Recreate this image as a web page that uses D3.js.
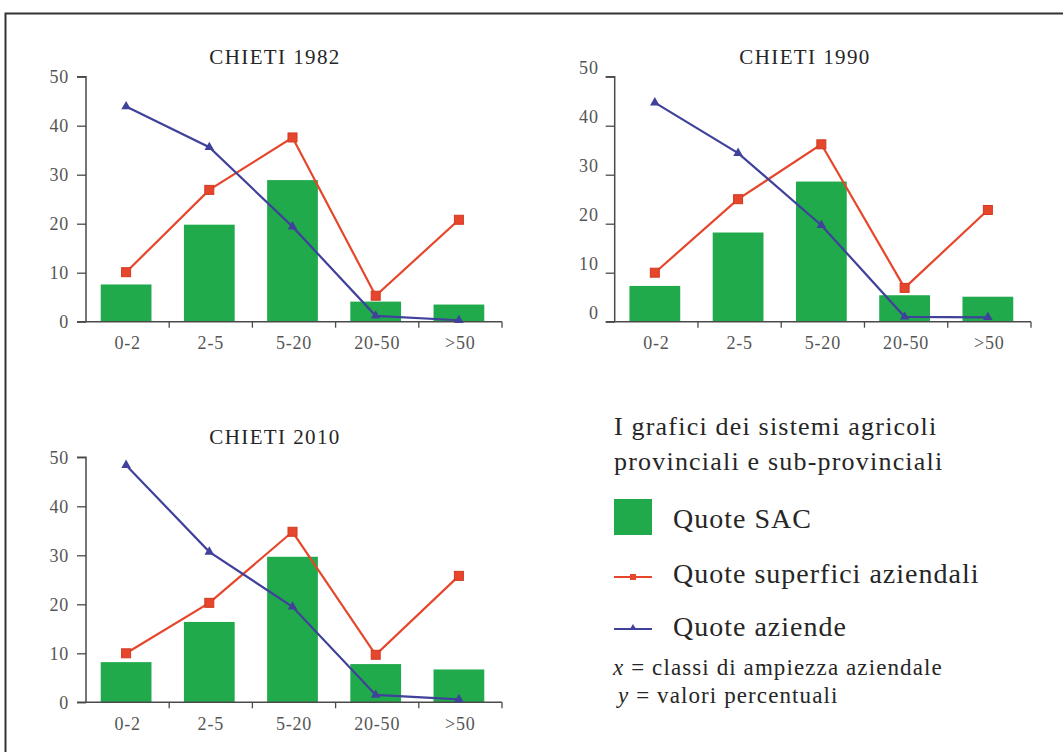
<!DOCTYPE html>
<html>
<head>
<meta charset="utf-8">
<script src="https://cdn.jsdelivr.net/npm/d3@7"></script>
<style>
  html, body { margin: 0; padding: 0; background: #fff; }
  svg { display: block; }
  svg text { font-family: "Liberation Serif", "DejaVu Serif", serif; }
</style>
</head>
<body>
<svg id="chart" width="1063" height="752"></svg>
<script>
// ---------- DATA ----------
const categories = ["0-2", "2-5", "5-20", "20-50", ">50"];
const panelTitles = ["CHIETI 1982", "CHIETI 1990", "CHIETI 2010"];
const yTicks = [0, 10, 20, 30, 40, 50];

// Quote SAC (bars)
const sac1982 = [7.6, 19.8, 28.9, 4.1, 3.5];
const sac1990 = [7.3, 18.2, 28.6, 5.4, 5.1];
const sac2010 = [8.2, 16.4, 29.7, 7.8, 6.7];

// Quote superfici aziendali (red line, squares)
const sup1982 = [10.1, 26.9, 37.6, 5.3, 20.8];
const sup1990 = [10.0, 25.0, 36.2, 6.9, 22.8];
const sup2010 = [10.0, 20.3, 34.8, 9.7, 25.8];

// Quote aziende (blue line, triangles)
const az1982 = [43.9, 35.6, 19.4, 1.2, 0.3];
const az1990 = [44.7, 34.4, 19.7, 1.0, 0.9];
const az2010 = [48.4, 30.7, 19.5, 1.5, 0.6];

const legendTitle = ["I grafici dei sistemi agricoli", "provinciali e sub-provinciali"];
const legendLabels = ["Quote SAC", "Quote superfici aziendali", "Quote aziende"];
const noteX = ["x", " = classi di ampiezza aziendale"];
const noteY = ["y", " = valori percentuali"];

// ---------- STYLE ----------
const GREEN = "#21aa4b", RED = "#e6462b", REDDARK = "#d13a22", BLUE = "#40419b";
const AXIS = "#4a4a4a", TICKTXT = "#555", TXT = "#262626";

const svg = d3.select("#chart");

// frame
svg.append("path")
  .attr("d", "M1063,13.5 L5.5,13.5 L5.5,752")
  .attr("fill", "none").attr("stroke", "#333").attr("stroke-width", 2);

const panels = [
  { title: panelTitles[0], sac: sac1982, sup: sup1982, az: az1982, x0: 86, x1: 502, yb: 321.7, yt: 76.7, tx: 275, ty: 64, lblShift: 0, lblGap: 17 },
  { title: panelTitles[1], sac: sac1990, sup: sup1990, az: az1990, x0: 614.7, x1: 1031, yb: 321.7, yt: 76.7, tx: 805, ty: 64, lblShift: -9, lblGap: 16 },
  { title: panelTitles[2], sac: sac2010, sup: sup2010, az: az2010, x0: 86, x1: 502, yb: 702.3, yt: 457.3, tx: 275, ty: 444, lblShift: 0, lblGap: 17 }
];

panels.forEach(p => {
  const g = svg.append("g");
  const x = d3.scaleBand().domain(categories).range([p.x0, p.x1]);
  const y = d3.scaleLinear().domain([0, 50]).range([p.yb, p.yt]);
  const bw = x.bandwidth() * 0.61;
  const cx = c => x(c) + x.bandwidth() / 2 - 1.5;

  // title
  g.append("text")
    .attr("x", p.tx).attr("y", p.ty)
    .attr("text-anchor", "middle")
    .attr("font-size", 21)
    .attr("letter-spacing", 1.4)
    .attr("fill", TXT)
    .text(p.title);

  // bars
  g.selectAll("rect.bar").data(categories).enter().append("rect")
    .attr("class", "bar")
    .attr("x", c => cx(c) - bw / 2)
    .attr("width", bw)
    .attr("y", (c, i) => y(p.sac[i]))
    .attr("height", (c, i) => y(0) - y(p.sac[i]))
    .attr("fill", GREEN);

  // y axis
  const yAxis = d3.axisLeft(y).tickValues(yTicks).tickSize(9).tickPadding(p.lblGap - 9).tickFormat(d3.format("d"));
  const ya = g.append("g").attr("transform", `translate(${p.x0},0)`).call(yAxis);
  ya.attr("font-family", null);
  ya.select(".domain").attr("stroke", AXIS).attr("stroke-width", 1.5).attr("d", `M-9,${y(50)}H0V${y(0)}`);
  ya.selectAll(".tick line").attr("stroke", AXIS).attr("stroke-width", 1.3);
  ya.selectAll(".tick text")
    .attr("font-size", 18).attr("letter-spacing", 0.8)
    .attr("fill", TICKTXT)
    .attr("transform", `translate(0,${p.lblShift})`)
    .attr("dy", "0.32em");

  // x axis: labels at band centers, ticks at band boundaries
  const xAxis = d3.axisBottom(x).tickSize(0).tickPadding(0);
  const xa = g.append("g").attr("transform", `translate(0,${p.yb})`).call(xAxis);
  xa.attr("font-family", null);
  xa.select(".domain").attr("stroke", AXIS).attr("stroke-width", 1.5).attr("d", `M${p.x0 - 9},0H${p.x1}`);
  xa.selectAll(".tick text")
    .attr("font-size", 18).attr("letter-spacing", 0.8)
    .attr("fill", TICKTXT)
    .attr("y", 27.5).attr("dy", 0);
  const bounds = categories.slice(1).map(c => x(c)).concat([p.x1]);
  xa.selectAll("line.bt").data(bounds).enter().append("line")
    .attr("class", "bt")
    .attr("x1", d => d).attr("x2", d => d)
    .attr("y1", 0).attr("y2", 6)
    .attr("stroke", AXIS).attr("stroke-width", 1.3);

  // red line
  const lineR = d3.line().x((d, i) => cx(categories[i])).y(d => y(d));
  g.append("path").datum(p.sup).attr("d", lineR)
    .attr("fill", "none").attr("stroke", RED).attr("stroke-width", 2.2);
  g.selectAll("rect.sq").data(p.sup).enter().append("rect")
    .attr("class", "sq")
    .attr("x", (d, i) => cx(categories[i]) - 4.5)
    .attr("y", d => y(d) - 4.5)
    .attr("width", 9).attr("height", 9)
    .attr("fill", RED).attr("stroke", REDDARK).attr("stroke-width", 1);

  // blue line
  g.append("path").datum(p.az).attr("d", lineR)
    .attr("fill", "none").attr("stroke", BLUE).attr("stroke-width", 2.2);
  const tri = d3.symbol().type(d3.symbolTriangle).size(40);
  g.selectAll("path.tri").data(p.az).enter().append("path")
    .attr("class", "tri")
    .attr("d", tri)
    .attr("transform", (d, i) => `translate(${cx(categories[i])},${y(d)})`)
    .attr("fill", BLUE);
});

// ---------- LEGEND ----------
const lg = svg.append("g");
lg.selectAll("text.lt").data(legendTitle).enter().append("text")
  .attr("class", "lt")
  .attr("x", 614).attr("y", (d, i) => 435 + i * 35)
  .attr("font-size", 26).attr("letter-spacing", 1.2)
  .attr("fill", TXT)
  .text(d => d);

lg.append("rect").attr("x", 614).attr("y", 499).attr("width", 38).attr("height", 36).attr("fill", GREEN);
lg.append("line").attr("x1", 614).attr("x2", 652).attr("y1", 577).attr("y2", 577).attr("stroke", RED).attr("stroke-width", 2.2);
lg.append("rect").attr("x", 630).attr("y", 574).attr("width", 6).attr("height", 6).attr("fill", RED);
lg.append("line").attr("x1", 614).attr("x2", 652).attr("y1", 629).attr("y2", 629).attr("stroke", BLUE).attr("stroke-width", 2.2);
lg.append("path").attr("d", d3.symbol().type(d3.symbolTriangle).size(22)).attr("transform", "translate(633,628)").attr("fill", BLUE);

const legendY = [528, 583, 636];
lg.selectAll("text.ll").data(legendLabels).enter().append("text")
  .attr("class", "ll")
  .attr("x", 673).attr("y", (d, i) => legendY[i])
  .attr("font-size", 28).attr("letter-spacing", 1)
  .attr("fill", TXT)
  .text(d => d);

[[noteX, 675], [noteY, 703]].forEach(([parts, yy], k) => {
  const t = lg.append("text")
    .attr("x", k === 0 ? 613 : 618).attr("y", yy)
    .attr("font-size", 23).attr("letter-spacing", 1.1)
    .attr("fill", TXT);
  t.append("tspan").attr("font-style", "italic").text(parts[0]);
  t.append("tspan").text(parts[1]);
});
</script>
</body>
</html>
